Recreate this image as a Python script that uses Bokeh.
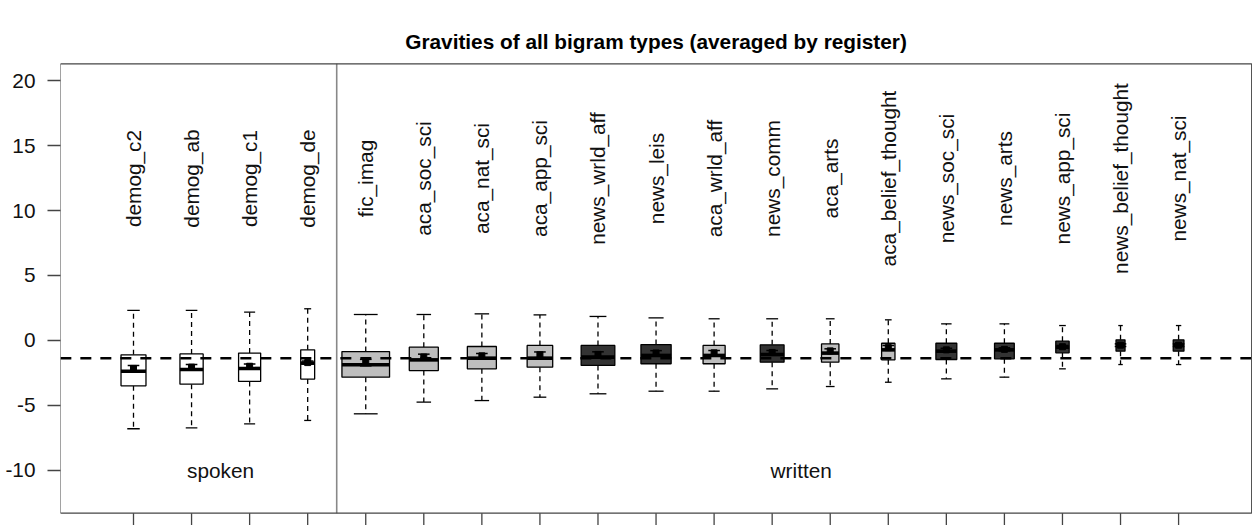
import numpy as np
from bokeh.plotting import figure
from bokeh.models import Range1d, FixedTicker
from bokeh.core.properties import value
from bokeh.embed import file_html
from bokeh.resources import INLINE

# ---------------- data ----------------
categories = ["demog_c2", "demog_ab", "demog_c1", "demog_de",
              "fic_imag", "aca_soc_sci", "aca_nat_sci", "aca_app_sci",
              "news_wrld_aff", "news_leis", "aca_wrld_aff", "news_comm",
              "aca_arts", "aca_belief_thought", "news_soc_sci", "news_arts",
              "news_app_sci", "news_belief_thought", "news_nat_sci"]
registers = ["spoken", "written"]
register_size = [4, 15]

whisker_hi = [2.31, 2.31, 2.18, 2.44, 2.00, 2.00, 2.05, 1.97, 1.85, 1.74,
              1.67, 1.67, 1.67, 1.59, 1.28, 1.28, 1.15, 1.15, 1.15]
q3 = [-1.10, -1.03, -0.97, -0.72, -0.85, -0.51, -0.46, -0.38, -0.38, -0.31,
      -0.38, -0.33, -0.26, -0.21, -0.21, -0.21, -0.05, 0.05, 0.05]
median = [-2.36, -2.23, -2.15, -1.74, -1.87, -1.49, -1.36, -1.36, -1.28, -1.15,
          -1.15, -1.08, -0.97, -0.72, -0.82, -0.72, -0.51, -0.38, -0.38]
q1 = [-3.49, -3.36, -3.15, -2.97, -2.82, -2.31, -2.18, -2.05, -1.92, -1.79,
      -1.79, -1.67, -1.67, -1.49, -1.46, -1.41, -0.95, -0.82, -0.82]
whisker_lo = [-6.79, -6.72, -6.41, -6.15, -5.64, -4.74, -4.62, -4.36, -4.10, -3.90,
              -3.90, -3.72, -3.54, -3.21, -2.95, -2.82, -2.18, -1.85, -1.85]
mean = [-2.15, -2.05, -1.98, -1.70, -1.70, -1.27, -1.18, -1.10, -1.07, -0.96,
        -0.95, -0.92, -0.80, -0.55, -0.72, -0.68, -0.48, -0.36, -0.36]
mean_ci = [0.23, 0.20, 0.18, 0.12, 0.25, 0.22, 0.18, 0.22, 0.20, 0.18,
           0.18, 0.15, 0.16, 0.17, 0.12, 0.12, 0.10, 0.10, 0.10]
# relative box widths (varwidth boxplot), in category units
box_width = [0.43, 0.40, 0.38, 0.24, 0.82, 0.50, 0.50, 0.44, 0.58, 0.52,
             0.38, 0.41, 0.30, 0.23, 0.36, 0.34, 0.23, 0.155, 0.185]
reference_value = -1.37
y_ticks = [-10, -5, 0, 5, 10, 15, 20]
ylim = (-12, 20)

TITLE = "Gravities of all bigram types (averaged by register)"

# ---------------- styles ----------------
FONT = "Liberation Sans"
FS = "20.8px"
fill_map = {"spoken": "#ffffff", "aca": "#bebebe", "fic": "#bebebe", "news": "#333333"}

n = len(categories)
xs = np.arange(1, n + 1, dtype=float)
w = np.array(box_width)
fills = []
for i, c in enumerate(categories):
    if i < register_size[0]:
        fills.append(fill_map["spoken"])
    else:
        fills.append(fill_map[c.split("_")[0]])

pad_y = 0.04 * (ylim[1] - ylim[0])
box_bottom, box_top = ylim[0] - pad_y, ylim[1] + pad_y
pad_x = 0.04 * n
box_left, box_right = 0.5 - pad_x, n + 0.5 + pad_x

p = figure(width=1252, height=525, output_backend="svg", toolbar_location=None,
           x_range=Range1d(-0.2573, 20.273), y_range=Range1d(-14.231, 26.154),
           min_border_left=60, min_border_right=0, min_border_top=0, min_border_bottom=0)
p.outline_line_color = None
p.xgrid.visible = False
p.ygrid.visible = False
p.xaxis.visible = False
p.yaxis.ticker = FixedTicker(ticks=y_ticks)
p.yaxis.major_label_overrides = {-10: "-10", -5: "-5"}
p.yaxis.axis_line_color = None
p.yaxis.major_tick_out = 13
p.yaxis.major_tick_in = 0
p.yaxis.minor_tick_line_color = None
p.yaxis.major_tick_line_color = "#444444"
p.yaxis.major_tick_line_width = 1.3
p.yaxis.major_label_text_font = FONT
p.yaxis.major_label_text_font_size = FS
p.yaxis.major_label_text_color = "#111111"
p.yaxis.major_label_standoff = 12

# whiskers
p.segment(x0=xs, y0=q3, x1=xs, y1=whisker_hi, line_color="black", line_width=1.3, line_dash="5 4")
p.segment(x0=xs, y0=q1, x1=xs, y1=whisker_lo, line_color="black", line_width=1.3, line_dash="5 4")
# staples
p.segment(x0=xs - w / 4, y0=whisker_hi, x1=xs + w / 4, y1=whisker_hi, line_color="black", line_width=1.3)
p.segment(x0=xs - w / 4, y0=whisker_lo, x1=xs + w / 4, y1=whisker_lo, line_color="black", line_width=1.3)
# boxes
p.quad(left=xs - w / 2, right=xs + w / 2, bottom=q1, top=q3, fill_color=fills,
       line_color="black", line_width=1.3)
# medians
p.segment(x0=xs - w / 2, y0=median, x1=xs + w / 2, y1=median, line_color="black", line_width=3.6)

# means with confidence bars
m = np.array(mean)
ci = np.array(mean_ci)
cap = 0.1
p.segment(x0=xs, y0=m - ci, x1=xs, y1=m + ci, line_color="black", line_width=1.5)
p.segment(x0=xs - cap, y0=m + ci, x1=xs + cap, y1=m + ci, line_color="black", line_width=1.5)
p.segment(x0=xs - cap, y0=m - ci, x1=xs + cap, y1=m - ci, line_color="black", line_width=1.5)
p.scatter(x=xs, y=m, marker="square", size=6, color="black")

# overall reference line
p.segment(x0=[box_left], y0=[reference_value], x1=[box_right], y1=[reference_value],
          line_color="black", line_width=2.6, line_dash="11 9")

# register separator
sep_x = register_size[0] + 0.5
p.segment(x0=[sep_x], y0=[box_bottom], x1=[sep_x], y1=[box_top], line_color="#888888", line_width=1.6)

# plot box
p.segment(x0=[box_left, box_left, box_left, box_right],
          y0=[box_bottom, box_top, box_bottom, box_bottom],
          x1=[box_right, box_right, box_left, box_right],
          y1=[box_bottom, box_top, box_top, box_top],
          line_color="#444444", line_width=1.3)

# bottom ticks (no labels)
p.segment(x0=xs, y0=[box_bottom] * n, x1=xs, y1=[box_bottom - 1.0] * n, line_color="#444444", line_width=1.3)

# category labels (rotated)
p.text(x=xs, y=[12.46] * n, text=categories, angle=np.pi / 2, text_align="center",
       text_baseline="middle", text_font=value(FONT), text_font_size=FS, text_color="#111111")

# register labels, centred on their groups of boxes
group_x = [2.5, 12.5]
p.text(x=group_x, y=[-10, -10], text=registers, text_align="center", text_baseline="middle",
       text_font=value(FONT), text_font_size=FS, text_color="#111111")

# title
p.text(x=[(box_left + box_right) / 2], y=[23.0], text=[TITLE], text_align="center",
       text_baseline="middle", text_font=value(FONT), text_font_size=FS,
       text_font_style="bold", text_color="#000000")

open("out.html", "w").write(file_html(p, INLINE))
